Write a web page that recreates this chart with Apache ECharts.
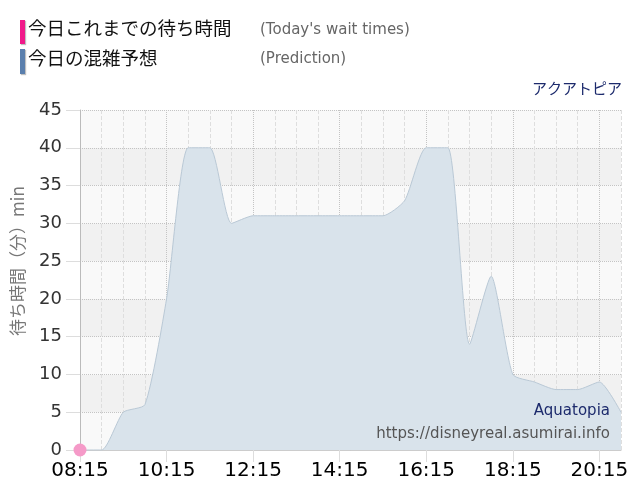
<!DOCTYPE html>
<html>
<head>
<meta charset="utf-8">
<script src="https://cdn.jsdelivr.net/npm/echarts@6/dist/echarts.min.js"></script>
<style>
  html, body { margin: 0; padding: 0; background: #fff; }
  #myChart { width: 640px; height: 500px; }
</style>
</head>
<body>
<div id="myChart"></div>
<script>
// 30分ごとの時刻
var times = ['08:15', '08:45', '09:15', '09:45', '10:15', '10:45', '11:15', '11:45',
    '12:15', '12:45', '13:15', '13:45', '14:15', '14:45', '15:15', '15:45',
    '16:15', '16:45', '17:15', '17:45', '18:15', '18:45', '19:15', '19:45',
    '20:15', '20:45'];
// 今日の混雑予想 (分)
var prediction = [0, 0, 5, 6, 20, 40, 40, 30, 31, 31, 31, 31, 31, 31, 31, 33,
    40, 40, 14, 23, 10, 9, 8, 8, 9, 5];
// 今日これまでの待ち時間 (分)
var todayWait = [0];

var yTicks = { min: 0, max: 45, step: 5 };

var jpFont = '"Noto Sans CJK JP", sans-serif';
var numFont = '"DejaVu Sans", sans-serif';

document.addEventListener('DOMContentLoaded', () => {
    var myChart = echarts.init(document.getElementById('myChart'));

    var option = {
        animation: false,
        backgroundColor: '#fff',
        grid: { left: 80, right: 19, top: 110, bottom: 50 },
        graphic: [
            { type: 'rect', shape: { x: 20, y: 20, width: 5, height: 24 }, style: { fill: '#f0198a', shadowColor: 'rgba(0,0,0,0.25)', shadowOffsetX: 1, shadowOffsetY: 1, shadowBlur: 1 } },
            { type: 'rect', shape: { x: 20, y: 49, width: 5, height: 25 }, style: { fill: '#5a7fad', shadowColor: 'rgba(0,0,0,0.25)', shadowOffsetX: 1, shadowOffsetY: 1, shadowBlur: 1 } },
            { type: 'text', left: 28, top: 19, style: { text: '今日これまでの待ち時間', font: '18.5px ' + jpFont, fill: '#111' } },
            { type: 'text', left: 28, top: 49, style: { text: '今日の混雑予想', font: '18.5px ' + jpFont, fill: '#111' } },
            { type: 'text', left: 260, top: 23, style: { text: "(Today's wait times)", font: '15px ' + numFont, fill: '#666' } },
            { type: 'text', left: 260, top: 52, style: { text: '(Prediction)', font: '15px ' + numFont, fill: '#666' } },
            { type: 'text', right: 18, top: 81, style: { text: 'アクアトピア', font: '15px ' + jpFont, fill: '#1c2a6c' } },
            { type: 'text', right: 30, top: 404, z: 10, style: { text: 'Aquatopia', font: '15px ' + numFont, fill: '#1c2a6c' } },
            { type: 'text', right: 30, top: 427, z: 10, style: { text: 'https://disneyreal.asumirai.info', font: '15px ' + numFont, fill: '#555' } },
            // 縦軸タイトル
            {
                type: 'text', x: 18, y: 261, rotation: Math.PI / 2,
                style: { text: '待ち時間（分）min', font: '17px ' + jpFont, fill: '#777', align: 'center', verticalAlign: 'middle' }
            }
        ],
        xAxis: [
            {
                type: 'category',
                data: times,
                boundaryGap: false,
                axisLine: { lineStyle: { color: '#ccc' } },
                axisTick: { interval: 3, length: 12, lineStyle: { color: '#ddd' } },
                axisLabel: { interval: 3, color: '#000', fontSize: 20, fontFamily: numFont, margin: 11 },
                splitLine: { show: true, interval: 3, lineStyle: { type: 'dotted', color: '#c4c4c4' } }
            },
            {
                type: 'category',
                data: times,
                boundaryGap: false,
                position: 'bottom',
                axisLine: { show: false },
                axisTick: { show: false },
                axisLabel: { show: false },
                splitLine: {
                    show: true,
                    interval: (i) => i % 4 !== 0,
                    lineStyle: { type: 'dashed', color: '#dedede' }
                }
            }
        ],
        yAxis: {
            type: 'value',
            min: yTicks.min,
            max: yTicks.max,
            interval: yTicks.step,
            axisLine: { show: true, lineStyle: { color: '#bbb' } },
            axisTick: { show: true, length: 14, lineStyle: { color: '#ddd' } },
            axisLabel: { color: '#333', fontSize: 18, fontFamily: numFont, margin: 18 },
            splitLine: { lineStyle: { type: 'dotted', color: '#c4c4c4' } },
            splitArea: { show: true, areaStyle: { color: ['#f9f9f9', '#f1f1f1'] } }
        },
        series: [
            {
                name: '今日の混雑予想',
                type: 'line',
                data: prediction,
                smooth: 0.2,
                symbol: 'none',
                lineStyle: { color: '#b9c8d5', width: 1 },
                areaStyle: { color: '#d9e3eb', opacity: 1 },
                z: 2
            },
            {
                name: '今日これまでの待ち時間',
                type: 'line',
                data: todayWait,
                symbol: 'circle',
                symbolSize: 13,
                itemStyle: { color: '#f59ac8' },
                lineStyle: { color: '#f0198a', width: 2 },
                z: 5
            }
        ]
    };

    myChart.setOption(option);
});
</script>
</body>
</html>
